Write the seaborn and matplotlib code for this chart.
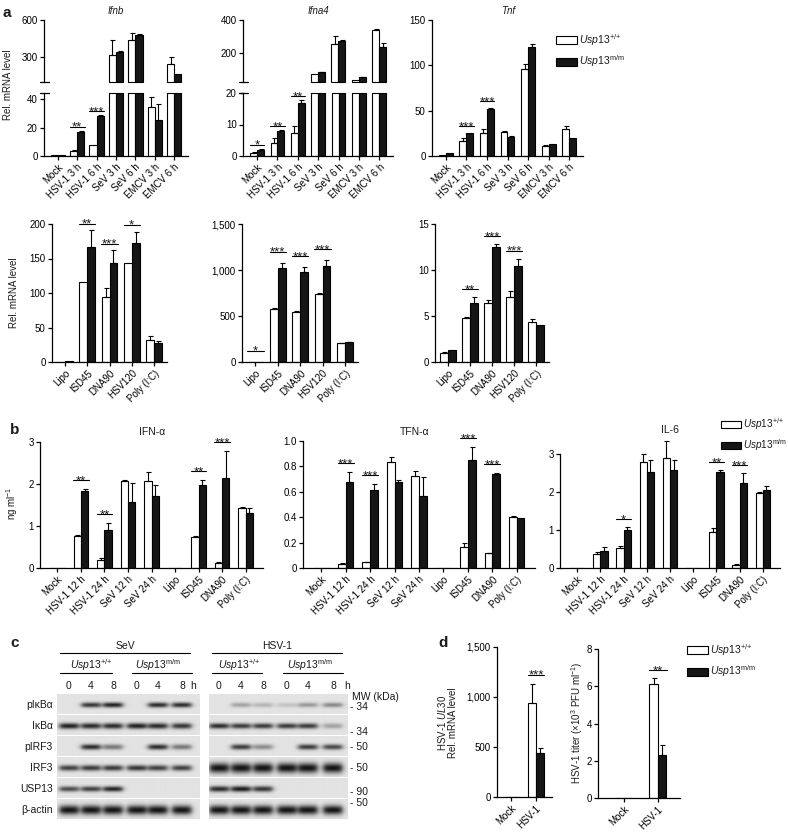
import numpy as np
import pandas as pd
import matplotlib
matplotlib.use("Agg")
import matplotlib.pyplot as plt
import seaborn as sns
from matplotlib.patches import Patch

# ------------------------------------------------------------------ data
GENOS = ["Usp13+/+", "Usp13m/m"]
GENO_LABELS = [r"$\mathit{Usp13}^{{+}/{+}}$", r"$\mathit{Usp13}^{\mathrm{m/m}}$"]

cats_a1 = ["Mock", "HSV-1 3 h", "HSV-1 6 h", "SeV 3 h", "SeV 6 h", "EMCV 3 h", "EMCV 6 h"]
ifnb_wt = [0.5, 3.8, 7.8, 316, 438, 34.5, 243]
ifnb_wt_sd = [0, 0.4, 0, 122, 57, 7.1, 57]
ifnb_mm = [0.9, 17.3, 28.4, 343, 478, 25.5, 162]
ifnb_mm_sd = [0, 0.4, 0.4, 3, 7, 11.4, 0]
ifnb_sig = [(1, "**"), (2, "***")]

ifna4_wt = [1.0, 4.2, 7.4, 69, 255, 34, 341]
ifna4_wt_sd = [0.3, 1.4, 2.0, 0, 48, 0, 4]
ifna4_mm = [2.0, 7.8, 16.7, 80, 274, 50, 233]
ifna4_mm_sd = [0.2, 0.3, 1.0, 3, 3, 3, 26]
ifna4_sig = [(0, "*"), (1, "**"), (2, "**")]

tnf_wt = [0.6, 16.5, 25.7, 26.8, 96, 11.4, 29.8]
tnf_wt_sd = [0, 3.0, 3.7, 0.7, 6, 0.6, 3.2]
tnf_mm = [2.8, 25.7, 51.8, 21.3, 120.5, 13, 20]
tnf_mm_sd = [0, 0, 1.2, 0.7, 3, 0, 0]
tnf_sig = [(1, "***"), (2, "***")]

cats_a2 = ["Lipo", "ISD45", "DNA90", "HSV120", "Poly (I:C)"]
a2_ifnb_wt = [0.5, 115.6, 93.7, 144, 32.6]
a2_ifnb_wt_sd = [0, 0, 13.3, 0, 5.2]
a2_ifnb_mm = [1.5, 166, 144, 172, 28.2]
a2_ifnb_mm_sd = [0.3, 24.7, 17.6, 17, 2.4]
a2_ifnb_sig = [(1, "**"), (2, "***"), (3, "*")]

a2_ifna4_wt = [3, 573, 547, 739, 203]
a2_ifna4_wt_sd = [0, 17, 5, 10, 3]
a2_ifna4_mm = [5, 1018, 978, 1047, 217]
a2_ifna4_mm_sd = [0, 62, 51, 58, 3]
a2_ifna4_sig = [(0, "*"), (1, "***"), (2, "***"), (3, "***")]

a2_tnf_wt = [1.0, 4.74, 6.37, 7.05, 4.3]
a2_tnf_wt_sd = [0.05, 0.15, 0.36, 0.7, 0.35]
a2_tnf_mm = [1.3, 6.44, 12.45, 10.45, 4.0]
a2_tnf_mm_sd = [0, 0.6, 0.35, 0.75, 0]
a2_tnf_sig = [(1, "**"), (2, "***"), (3, "***")]

cats_b = ["Mock", "HSV-1 12 h", "HSV-1 24 h", "SeV 12 h", "SeV 24 h", "Lipo", "ISD45", "DNA90", "Poly (I:C)"]
ifna_wt = [0, 0.77, 0.18, 2.08, 2.07, 0, 0.75, 0.13, 1.43]
ifna_wt_sd = [0, 0.02, 0.06, 0.02, 0.21, 0, 0.01, 0.01, 0.02]
ifna_mm = [0, 1.83, 0.9, 1.56, 1.72, 0, 1.97, 2.15, 1.3]
ifna_mm_sd = [0, 0.05, 0.18, 0.47, 0.25, 0, 0.13, 0.63, 0.13]
ifna_sig = [(1, "**"), (2, "**"), (6, "**"), (7, "***")]

tnfa_wt = [0, 0.035, 0.045, 0.837, 0.727, 0, 0.165, 0.115, 0.40]
tnfa_wt_sd = [0, 0.005, 0.005, 0.04, 0.037, 0, 0.035, 0.005, 0.013]
tnfa_mm = [0, 0.675, 0.615, 0.675, 0.568, 0, 0.85, 0.741, 0.393]
tnfa_mm_sd = [0, 0.08, 0.045, 0.019, 0.152, 0, 0.105, 0.009, 0]
tnfa_sig = [(1, "***"), (2, "***"), (6, "***"), (7, "***")]

il6_wt = [0, 0.36, 0.53, 2.8, 2.89, 0, 0.94, 0.09, 1.97]
il6_wt_sd = [0, 0.05, 0.05, 0.2, 0.45, 0, 0.1, 0.01, 0.03]
il6_mm = [0, 0.44, 1.0, 2.53, 2.57, 0, 2.52, 2.23, 2.05]
il6_mm_sd = [0, 0.11, 0.07, 0.31, 0.28, 0, 0.06, 0.26, 0.1]
il6_sig = [(2, "*"), (6, "**"), (7, "***")]

cats_d = ["Mock", "HSV-1"]
ul30_wt = [0, 940]
ul30_wt_sd = [0, 195]
ul30_mm = [0, 445]
ul30_mm_sd = [0, 45]
ul30_sig = [(1, "***")]
titer_wt = [0, 6.1]
titer_wt_sd = [0, 0.34]
titer_mm = [0, 2.29]
titer_mm_sd = [0, 0.54]
titer_sig = [(1, "**")]

blot_rows = ["pI\u03baB\u03b1", "I\u03baB\u03b1", "pIRF3", "IRF3", "USP13", "\u03b2-actin"]
lane_times = ["0", "4", "8", "0", "4", "8"]
mw_labels = ["34", "34", "50", "50", "90", "50"]
sev_bands = [
    [0.0, 0.80, 0.90, 0.0, 0.85, 0.85],
    [0.90, 0.85, 0.85, 0.90, 0.85, 0.80],
    [0.0, 0.85, 0.50, 0.0, 0.85, 0.50],
    [0.75, 0.78, 0.78, 0.80, 0.75, 0.75],
    [0.70, 0.75, 0.88, 0.0, 0.0, 0.0],
    [0.95, 0.95, 0.95, 0.95, 0.95, 0.95],
]
hsv_bands = [
    [0.0, 0.30, 0.22, 0.15, 0.35, 0.42],
    [0.85, 0.78, 0.78, 0.78, 0.78, 0.30],
    [0.0, 0.78, 0.40, 0.0, 0.78, 0.72],
    [0.95, 0.95, 0.95, 0.95, 0.95, 0.95],
    [0.85, 0.92, 0.80, 0.0, 0.0, 0.0],
    [0.95, 0.95, 0.95, 0.95, 0.95, 0.95],
]

# ------------------------------------------------------------------ style
sns.set_theme(style="ticks")
plt.rcParams["font.family"] = ["Liberation Sans", "DejaVu Sans"]
plt.rcParams["mathtext.fontset"] = "custom"
plt.rcParams["mathtext.rm"] = "Liberation Sans"
plt.rcParams["mathtext.it"] = "Liberation Sans:italic"
plt.rcParams["mathtext.bf"] = "Liberation Sans:bold"
plt.rcParams.update({
    "axes.linewidth": 0.9, "xtick.major.width": 0.9, "ytick.major.width": 0.9,
    "xtick.major.size": 3, "ytick.major.size": 3, "xtick.labelsize": 7,
    "ytick.labelsize": 7, "xtick.major.pad": 1.5, "ytick.major.pad": 1.5,
    "axes.edgecolor": "black", "xtick.color": "black", "ytick.color": "black",
    "text.color": "#1a1a1a",
})
WHITE = "white"
DARK = "#161616"
FS = 7

W, H = 788, 832
fig = plt.figure(figsize=(W / 100, H / 100), dpi=100)


def px_axes(x0, y0, x1, y1):
    return fig.add_axes([x0 / W, 1 - y1 / H, (x1 - x0) / W, (y1 - y0) / H])


def bar_panel(ax, cats, wt, wts, mm, mms, width, ylim, yticks, yticklabels=None,
              sig=(), xlabels=True, clip=True, xlim=None, star_frac=0.07, close_top=False):
    df = pd.DataFrame({
        "cat": list(cats) * 2,
        "geno": [GENOS[0]] * len(cats) + [GENOS[1]] * len(cats),
        "val": list(wt) + list(mm),
    })
    sns.barplot(data=df, x="cat", y="val", hue="geno", order=cats, hue_order=GENOS,
                palette=[WHITE, DARK], width=width, edgecolor="black", linewidth=0.8,
                errorbar=None, legend=False, saturation=1, ax=ax)
    patches = sorted(ax.patches, key=lambda p: p.get_x())
    vals, sds = [wt, mm], [wts, mms]
    margin = 0.02 * (ylim[1] - ylim[0])
    for i in range(len(cats)):
        for j in range(2):
            p = patches[2 * i + j]
            v, e = vals[j][i], sds[j][i]
            if close_top and v > ylim[1]:
                ax.plot([p.get_x(), p.get_x() + p.get_width()], [ylim[1], ylim[1]],
                        color="black", lw=0.8, clip_on=False)
            if e > 0 and v + e > ylim[0] + margin:
                cont = ax.errorbar(p.get_x() + p.get_width() / 2, v, yerr=[[0], [e]], fmt="none",
                                   ecolor="black", elinewidth=0.8, capsize=1.8, capthick=0.8)
                if not clip:
                    for art in list(cont.lines[1]) + list(cont.lines[2]):
                        art.set_clip_on(False)
    ymax = ylim[1]
    for i, stars in sig:
        top = max(wt[i] + wts[i], mm[i] + mms[i])
        y = top + star_frac * ymax
        pw, pb = patches[2 * i], patches[2 * i + 1]
        xa = pw.get_x() - 0.05 * pw.get_width()
        xb = pb.get_x() + 1.05 * pb.get_width()
        ax.plot([xa, xb], [y, y], color="black", lw=0.8, clip_on=False)
        ax.annotate(stars, ((xa + xb) / 2, y), xytext=(0, -3.0), textcoords="offset points",
                    ha="center", va="baseline", fontsize=9.5, annotation_clip=False)
    ax.set_ylim(*ylim)
    if xlim is not None:
        ax.set_xlim(*xlim)
    ax.set_yticks(yticks)
    ax.set_yticklabels(yticklabels if yticklabels is not None else [str(t) for t in yticks])
    ax.set_xlabel("")
    ax.set_ylabel("")
    sns.despine(ax=ax)
    ax.set_xticks(range(len(cats)))
    if xlabels:
        ax.set_xticklabels(cats, rotation=45, ha="right", rotation_mode="anchor")
    else:
        ax.set_xticklabels([])
    ax.tick_params(direction="out", labelsize=FS)
    ax.set_facecolor("none")
    return ax


def broken(x0, x1, ytop, ybu, ybl, ybot, wt, wts, mm, mms, width, lim_up, lim_lo, t_up, t_lo, sig):
    axu = px_axes(x0, ytop, x1, ybu)
    axl = px_axes(x0, ybl, x1, ybot)
    bar_panel(axu, cats_a1, wt, wts, mm, mms, width, lim_up, t_up, xlabels=False)
    axu.spines["bottom"].set_visible(False)
    axu.tick_params(bottom=False)
    # close the bottom edge of bars that continue from the lower part
    for p in axu.patches:
        if p.get_height() > lim_up[0]:
            axu.plot([p.get_x(), p.get_x() + p.get_width()], [lim_up[0], lim_up[0]],
                     color="black", lw=0.8, clip_on=False)
    bar_panel(axl, cats_a1, wt, wts, mm, mms, width, lim_lo, t_lo, sig=sig, close_top=True)
    for a, yy in ((axu, 0), (axl, 1)):
        a.plot([-0.03, 0.035], [yy, yy], transform=a.transAxes, color="black", lw=0.9, clip_on=False)
    return axu, axl


# ------------------------------------------------------------------ panel a (top)
broken(44, 188, 20, 82, 93, 156, ifnb_wt, ifnb_wt_sd, ifnb_mm, ifnb_mm_sd, 0.75,
       (97, 600), (0, 44.5), [300, 600], [0, 20, 40], ifnb_sig)
broken(243, 393, 20, 82, 93, 156, ifna4_wt, ifna4_wt_sd, ifna4_mm, ifna4_mm_sd, 0.68,
       (20, 400), (0, 20), [200, 400], [0, 10, 20], ifna4_sig)
ax = px_axes(432, 20, 583, 156)
bar_panel(ax, cats_a1, tnf_wt, tnf_wt_sd, tnf_mm, tnf_mm_sd, 0.68, (0, 150), [0, 50, 100, 150], sig=tnf_sig,
          star_frac=0.05)

# ------------------------------------------------------------------ panel a (bottom)
ax = px_axes(52, 224, 167, 362)
bar_panel(ax, cats_a2, a2_ifnb_wt, a2_ifnb_wt_sd, a2_ifnb_mm, a2_ifnb_mm_sd, 0.7, (0, 200),
          [0, 50, 100, 150, 200], sig=a2_ifnb_sig, star_frac=0.05)
ax = px_axes(242, 224, 358, 362)
bar_panel(ax, cats_a2, a2_ifna4_wt, a2_ifna4_wt_sd, a2_ifna4_mm, a2_ifna4_mm_sd, 0.7, (0, 1500),
          [0, 500, 1000, 1500], ["0", "500", "1,000", "1,500"], sig=a2_ifna4_sig, star_frac=0.08)
ax = px_axes(435, 224, 549, 362)
bar_panel(ax, cats_a2, a2_tnf_wt, a2_tnf_wt_sd, a2_tnf_mm, a2_tnf_mm_sd, 0.7, (0, 15),
          [0, 5, 10, 15], sig=a2_tnf_sig, star_frac=0.06)

# ------------------------------------------------------------------ panel b
ax = px_axes(40, 442, 263, 568)
bar_panel(ax, cats_b, ifna_wt, ifna_wt_sd, ifna_mm, ifna_mm_sd, 0.62, (0, 3), [0, 1, 2, 3], sig=ifna_sig)
ax = px_axes(303, 441, 535, 568)
bar_panel(ax, cats_b, tnfa_wt, tnfa_wt_sd, tnfa_mm, tnfa_mm_sd, 0.62, (0, 1.0),
          [0, 0.2, 0.4, 0.6, 0.8, 1.0], ["0", "0.2", "0.4", "0.6", "0.8", "1.0"], sig=tnfa_sig)
ax = px_axes(560, 454, 780, 568)
bar_panel(ax, cats_b, il6_wt, il6_wt_sd, il6_mm, il6_mm_sd, 0.62, (0, 3), [0, 1, 2, 3], sig=il6_sig,
          clip=False)

# ------------------------------------------------------------------ panel d
ax = px_axes(497, 647, 552, 797)
bar_panel(ax, cats_d, ul30_wt, ul30_wt_sd, ul30_mm, ul30_mm_sd, 0.62, (0, 1500),
          [0, 500, 1000, 1500], ["0", "500", "1,000", "1,500"], sig=ul30_sig, xlim=(-0.55, 1.64),
          star_frac=0.06)
ax = px_axes(598, 649, 680, 798)
bar_panel(ax, cats_d, titer_wt, titer_wt_sd, titer_mm, titer_mm_sd, 0.5, (0, 8),
          [0, 2, 4, 6, 8], sig=titer_sig, xlim=(-0.76, 1.65), star_frac=0.055)

# ------------------------------------------------------------------ panel c (blots)
ROW_TOP, ROW_H, ROW_STEP = 694, 20, 21
band_sig = {"sev": [0.13, 0.15, 0.14, 0.15, 0.14, 0.24], "hsv": [0.12, 0.14, 0.14, 0.26, 0.15, 0.24]}
lanes_left = [69, 91, 113, 137, 158, 182]
lanes_right = [219, 241, 263, 287, 308, 333]


def blot(x0, x1, bands, lanes, sigs):
    nx, ny = 300, 40
    xs = np.linspace(x0, x1, nx)[None, :]
    ys = np.linspace(0, 1, ny)[:, None]
    for r, ints in enumerate(bands):
        top = ROW_TOP + r * ROW_STEP
        a = px_axes(x0, top, x1, top + ROW_H)
        img = np.full((ny, nx), 0.11)
        for cx, inten in zip(lanes, ints):
            px_ = 1 / (1 + np.exp((np.abs(xs - cx) - 9.5) / 1.6))
            py_ = np.exp(-((ys - 0.55) / sigs[r]) ** 2)
            img = img + 0.86 * inten * px_ * py_
        a.imshow(np.clip(img, 0, 1), cmap="gray_r", vmin=0, vmax=1, aspect="auto",
                 interpolation="bilinear", extent=(0, 1, 1, 0))
        a.set_axis_off()


blot(57, 200, sev_bands, lanes_left, band_sig["sev"])
blot(209, 348, hsv_bands, lanes_right, band_sig["hsv"])

# ------------------------------------------------------------------ overlay texts
ov = fig.add_axes([0, 0, 1, 1], zorder=-5)
ov.set_xlim(0, W)
ov.set_ylim(H, 0)
ov.axis("off")


def T(x, y, s, **kw):
    kw.setdefault("fontsize", FS)
    kw.setdefault("ha", "center")
    kw.setdefault("va", "center")
    ov.text(x, y, s, **kw)


def L(x0, x1, y):
    ov.plot([x0, x1], [y, y], color="black", lw=0.8)


T(3, 13, "a", fontsize=11, fontweight="bold", ha="left")
T(116, 11, "Ifnb", style="italic")
T(318, 11, "Ifna4", style="italic")
T(508, 11, "Tnf", style="italic")
T(8, 85, "Rel. mRNA level", rotation=90)
T(14, 293, "Rel. mRNA level", rotation=90)

T(10, 430, "b", fontsize=11, fontweight="bold", ha="left")
T(152, 432, "IFN-\u03b1", fontsize=7.5)
T(415, 432, "TFN-\u03b1", fontsize=7.5)
T(670, 430, "IL-6", fontsize=7.5)
T(12, 503, r"ng ml$^{-1}$", rotation=90)

T(10, 643, "c", fontsize=11, fontweight="bold", ha="left")
T(125, 646, "SeV", fontsize=7.5)
L(60, 190, 653)
T(277, 646, "HSV-1", fontsize=7.5)
L(212, 342, 653)
T(91, 665, GENO_LABELS[0], fontsize=7.5)
L(60, 112, 673)
T(158, 665, GENO_LABELS[1], fontsize=7.5)
L(132, 192, 673)
T(239, 665, GENO_LABELS[0], fontsize=7.5)
L(212, 262, 673)
T(310, 665, GENO_LABELS[1], fontsize=7.5)
L(283, 343, 673)
for xs_, hx in ((lanes_left, 193), (lanes_right, 347)):
    for x_, t in zip(xs_, lane_times):
        T(x_, 686, t, fontsize=7.5)
    T(hx, 686, "h", fontsize=7.5)
for r, name in enumerate(blot_rows):
    T(53, ROW_TOP + r * ROW_STEP + 11, name, fontsize=7.5, ha="right")
T(352, 697, "MW (kDa)", fontsize=7.5, ha="left")
for y_, m in zip([707, 732, 747, 768, 792, 803], mw_labels):
    T(350, y_, "- " + m, fontsize=7.5, ha="left")

T(438, 643, "d", fontsize=11, fontweight="bold", ha="left")
T(442, 723, r"HSV-1 $\mathit{UL30}$", rotation=90)
T(453, 723, "Rel. mRNA level", rotation=90)
T(577, 723, "HSV-1 titer (\u00d710$^{3}$ PFU ml$^{-1}$)", rotation=90)

# ------------------------------------------------------------------ legends
handles = [Patch(facecolor=WHITE, edgecolor="black", lw=0.8), Patch(facecolor=DARK, edgecolor="black", lw=0.8)]
for lx, ly, fs in ((556, 32, 7.5), (721, 416, 7.2), (687, 642, 7.5)):
    fig.legend(handles, GENO_LABELS, loc="upper left", bbox_to_anchor=(lx / W, 1 - ly / H),
               frameon=False, fontsize=fs, handlelength=2.0, handleheight=0.75,
               handletextpad=0.2, labelspacing=0.55, borderpad=0, borderaxespad=0)

fig.savefig("out.png", dpi=100)
